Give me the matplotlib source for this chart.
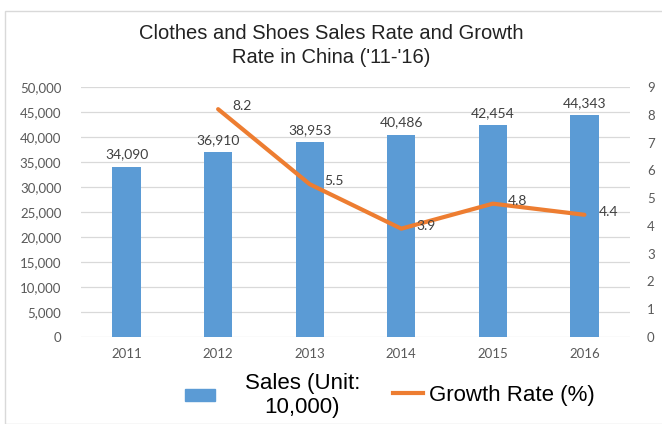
import matplotlib.pyplot as plt
import matplotlib.patches as mpatches
from matplotlib.lines import Line2D

years = ['2011', '2012', '2013', '2014', '2015', '2016']
sales = [34090, 36910, 38953, 40486, 42454, 44343]
growth_years = ['2012', '2013', '2014', '2015', '2016']
growth = [8.2, 5.5, 3.9, 4.8, 4.4]

bar_color = '#5B9BD5'
line_color = '#ED7D31'
tick_color = '#595959'

plt.rcParams['font.family'] = ['Liberation Sans', 'DejaVu Sans']

fig = plt.figure(figsize=(6.62, 4.24), dpi=100)
ax = fig.add_axes([0.122, 0.205, 0.830, 0.590])

# outer chart frame
fig.patches.append(mpatches.Rectangle((0.008, 0.0), 1.2, 0.975, transform=fig.transFigure,
                                      fill=False, edgecolor='#d9d9d9', linewidth=1.0))

x = list(range(len(years)))
ax.bar(x, sales, width=0.31, color=bar_color, zorder=2)
ax.set_ylim(0, 50000)
ax.set_xlim(-0.5, len(years) - 0.5)
ax.set_yticks(range(0, 50001, 5000))
ax.set_yticklabels([f'{v:,}' for v in range(0, 50001, 5000)])
ax.set_xticks(x)
ax.set_xticklabels(years)
ax.grid(axis='y', color='#d9d9d9', linewidth=0.9, zorder=0)
ax.set_axisbelow(True)
for s in ax.spines.values():
    s.set_visible(False)
ax.tick_params(length=0, colors=tick_color, labelsize=9.5, pad=8)
ax.tick_params(axis='y', pad=14)

for xi, v in zip(x, sales):
    ax.text(xi, v + 1200, f'{v:,}', ha='center', va='bottom', fontsize=10,
            color='#404040', family=['Lato', 'DejaVu Sans'])

ax2 = ax.twinx()
gx = [years.index(y) for y in growth_years]
ax2.plot(gx, growth, color=line_color, linewidth=3, solid_capstyle='round', zorder=3)
ax2.set_ylim(0, 9)
ax2.set_yticks(range(0, 10))
for s in ax2.spines.values():
    s.set_visible(False)
ax2.tick_params(length=0, colors=tick_color, labelsize=9.5, pad=12)
for xi, v in zip(gx, growth):
    ax2.text(xi + 0.16, v + 0.1, f'{v}', ha='left', va='center', fontsize=10,
             color='#404040', family=['Lato', 'DejaVu Sans'])

for lbl in ax.get_xticklabels() + ax.get_yticklabels() + ax2.get_yticklabels():
    lbl.set_family(['Lato', 'DejaVu Sans'])

fig.text(0.5, 0.893, "Clothes and Shoes Sales Rate and Growth\nRate in China ('11-'16)",
         ha='center', va='center', fontsize=14.5, color='#222222', linespacing=1.35)

# two legend entries, each with its own spacing
leg1 = fig.legend(handles=[mpatches.Patch(color=bar_color, label='Sales (Unit:\n10,000)')],
                  loc='center left', bbox_to_anchor=(0.279, 0.068), frameon=False,
                  fontsize=16, handlelength=1.35, handleheight=0.45, handletextpad=1.35,
                  borderpad=0, borderaxespad=0)
for t in leg1.get_texts():
    t.set_multialignment('center')
leg2 = fig.legend(handles=[Line2D([0], [0], color=line_color, linewidth=3, label='Growth Rate (%)')],
                  loc='center left', bbox_to_anchor=(0.593, 0.068), frameon=False,
                  fontsize=16, handlelength=1.35, handletextpad=0.3,
                  borderpad=0, borderaxespad=0)

fig.savefig('out.png', dpi=100)
